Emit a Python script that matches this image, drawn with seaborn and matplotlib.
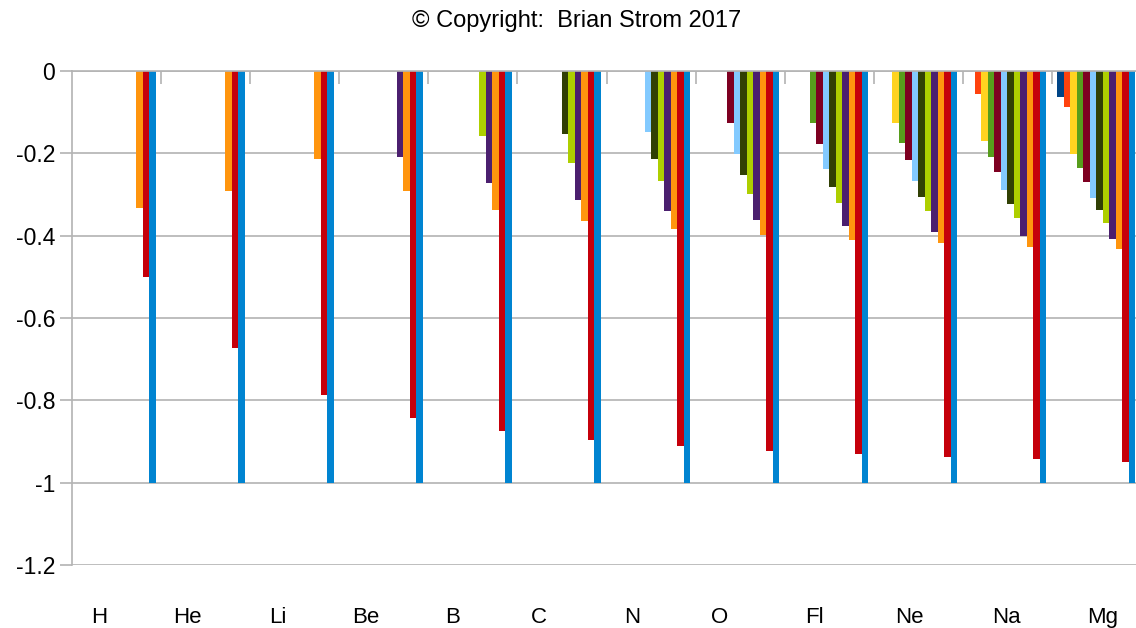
import numpy as np
import pandas as pd
import matplotlib
matplotlib.use("Agg")
import matplotlib.pyplot as plt
import seaborn as sns
from matplotlib.ticker import FixedLocator

categories = ["H", "He", "Li", "Be", "B", "C", "N", "O", "Fl", "Ne", "Na", "Mg"]

s1 = [0, 0, 0, 0, 0, 0, 0, 0, 0, 0, 0, -0.063]
s2 = [0, 0, 0, 0, 0, 0, 0, 0, 0, 0, -0.056, -0.088]
s3 = [0, 0, 0, 0, 0, 0, 0, 0, 0, -0.127, -0.170, -0.202]
s4 = [0, 0, 0, 0, 0, 0, 0, 0, -0.127, -0.175, -0.209, -0.236]
s5 = [0, 0, 0, 0, 0, 0, 0, -0.127, -0.178, -0.217, -0.246, -0.270]
s6 = [0, 0, 0, 0, 0, 0, -0.149, -0.202, -0.239, -0.268, -0.290, -0.309]
s7 = [0, 0, 0, 0, 0, -0.153, -0.213, -0.253, -0.282, -0.307, -0.324, -0.338]
s8 = [0, 0, 0, 0, -0.157, -0.224, -0.268, -0.299, -0.321, -0.341, -0.358, -0.370]
s9 = [0, 0, 0, -0.208, -0.273, -0.314, -0.341, -0.363, -0.377, -0.392, -0.402, -0.409]
s10 = [-0.334, -0.292, -0.213, -0.291, -0.337, -0.365, -0.385, -0.399, -0.411, -0.419, -0.428, -0.433]
s11 = [-0.500, -0.672, -0.787, -0.842, -0.874, -0.896, -0.911, -0.923, -0.930, -0.938, -0.942, -0.950]
s12 = [-1, -1, -1, -1, -1, -1, -1, -1, -1, -1, -1, -1]

series_names = ["S1", "S2", "S3", "S4", "S5", "S6", "S7", "S8", "S9", "S10", "S11", "S12"]
series_values = [s1, s2, s3, s4, s5, s6, s7, s8, s9, s10, s11, s12]
colors = ["#004586", "#ff420e", "#ffd320", "#579d1c", "#7e0021", "#83caff",
          "#314004", "#aecf00", "#4b1f6f", "#ff950e", "#c5000b", "#0084d1"]

y_ticks = [0, -0.2, -0.4, -0.6, -0.8, -1, -1.2]
y_tick_labels = ["0", "-0.2", "-0.4", "-0.6", "-0.8", "-1", "-1.2"]
title = "\u00a9 Copyright:  Brian Strom 2017"

rows = []
for name, vals in zip(series_names, series_values):
    for c, v in zip(categories, vals):
        rows.append({"cat": c, "series": name, "value": v})
df = pd.DataFrame(rows)

sns.set_style("white")
plt.rcParams["font.family"] = ["Liberation Sans", "DejaVu Sans"]
plt.rcParams["axes.unicode_minus"] = False
plt.rcParams["text.color"] = "black"
plt.rcParams["xtick.labelcolor"] = "black"
plt.rcParams["ytick.labelcolor"] = "black"

W, H = 1136, 628
fig = plt.figure(figsize=(W / 100, H / 100), dpi=100)
left, right, top, bottom = 72, 1141, 71, 565
ax = fig.add_axes([left / W, 1 - bottom / H, (right - left) / W, (bottom - top) / H])

sns.barplot(data=df, x="cat", y="value", hue="series", order=categories,
            hue_order=series_names, palette=colors, width=0.875, saturation=1,
            linewidth=0, errorbar=None, legend=False, ax=ax, zorder=3)

ax.set_xlim(-0.5, len(categories) - 0.5)
ax.set_ylim(-1.2, 0)
ax.set_yticks(y_ticks)
ax.set_yticklabels(y_tick_labels, fontsize=16.5, color="black")
ax.yaxis.grid(True, color="#b3b3b3", linewidth=1.2, zorder=0)
ax.set_axisbelow(True)

# category labels below the plot (placed where the original renderer put them)
label_px = [99, 187.5, 277.5, 365.5, 452.5, 539, 632, 720, 814, 909, 1006, 1103]
group_px = (right - left) / len(categories)
label_pos = [(p - left) / group_px - 0.5 for p in label_px]
ax.set_xticks(label_pos)
ax.set_xticklabels(categories, fontsize=16, color="black")
ax.tick_params(axis="x", which="major", length=0, pad=30, bottom=True, top=False)
# boundary ticks on the zero line
ax.xaxis.set_minor_locator(FixedLocator([i + 0.5 for i in range(len(categories) - 1)]))
ax.tick_params(axis="x", which="minor", top=True, bottom=False, direction="in",
               length=9, width=1.2, color="#b3b3b3")
ax.tick_params(axis="y", which="major", left=True, direction="out", length=9,
               width=1.2, color="#b3b3b3", pad=3)

for side in ["right", "bottom"]:
    ax.spines[side].set_visible(False)
for side in ["top", "left"]:
    ax.spines[side].set_visible(True)
    ax.spines[side].set_color("#b3b3b3")
    ax.spines[side].set_linewidth(1.2)
    ax.spines[side].set_zorder(4)

ax.set_xlabel("")
ax.set_ylabel("")

fig.text(577 / W, 1 - 21 / H, title, ha="center", va="center", fontsize=17,
         color="black")

fig.savefig("out.png", dpi=100)
